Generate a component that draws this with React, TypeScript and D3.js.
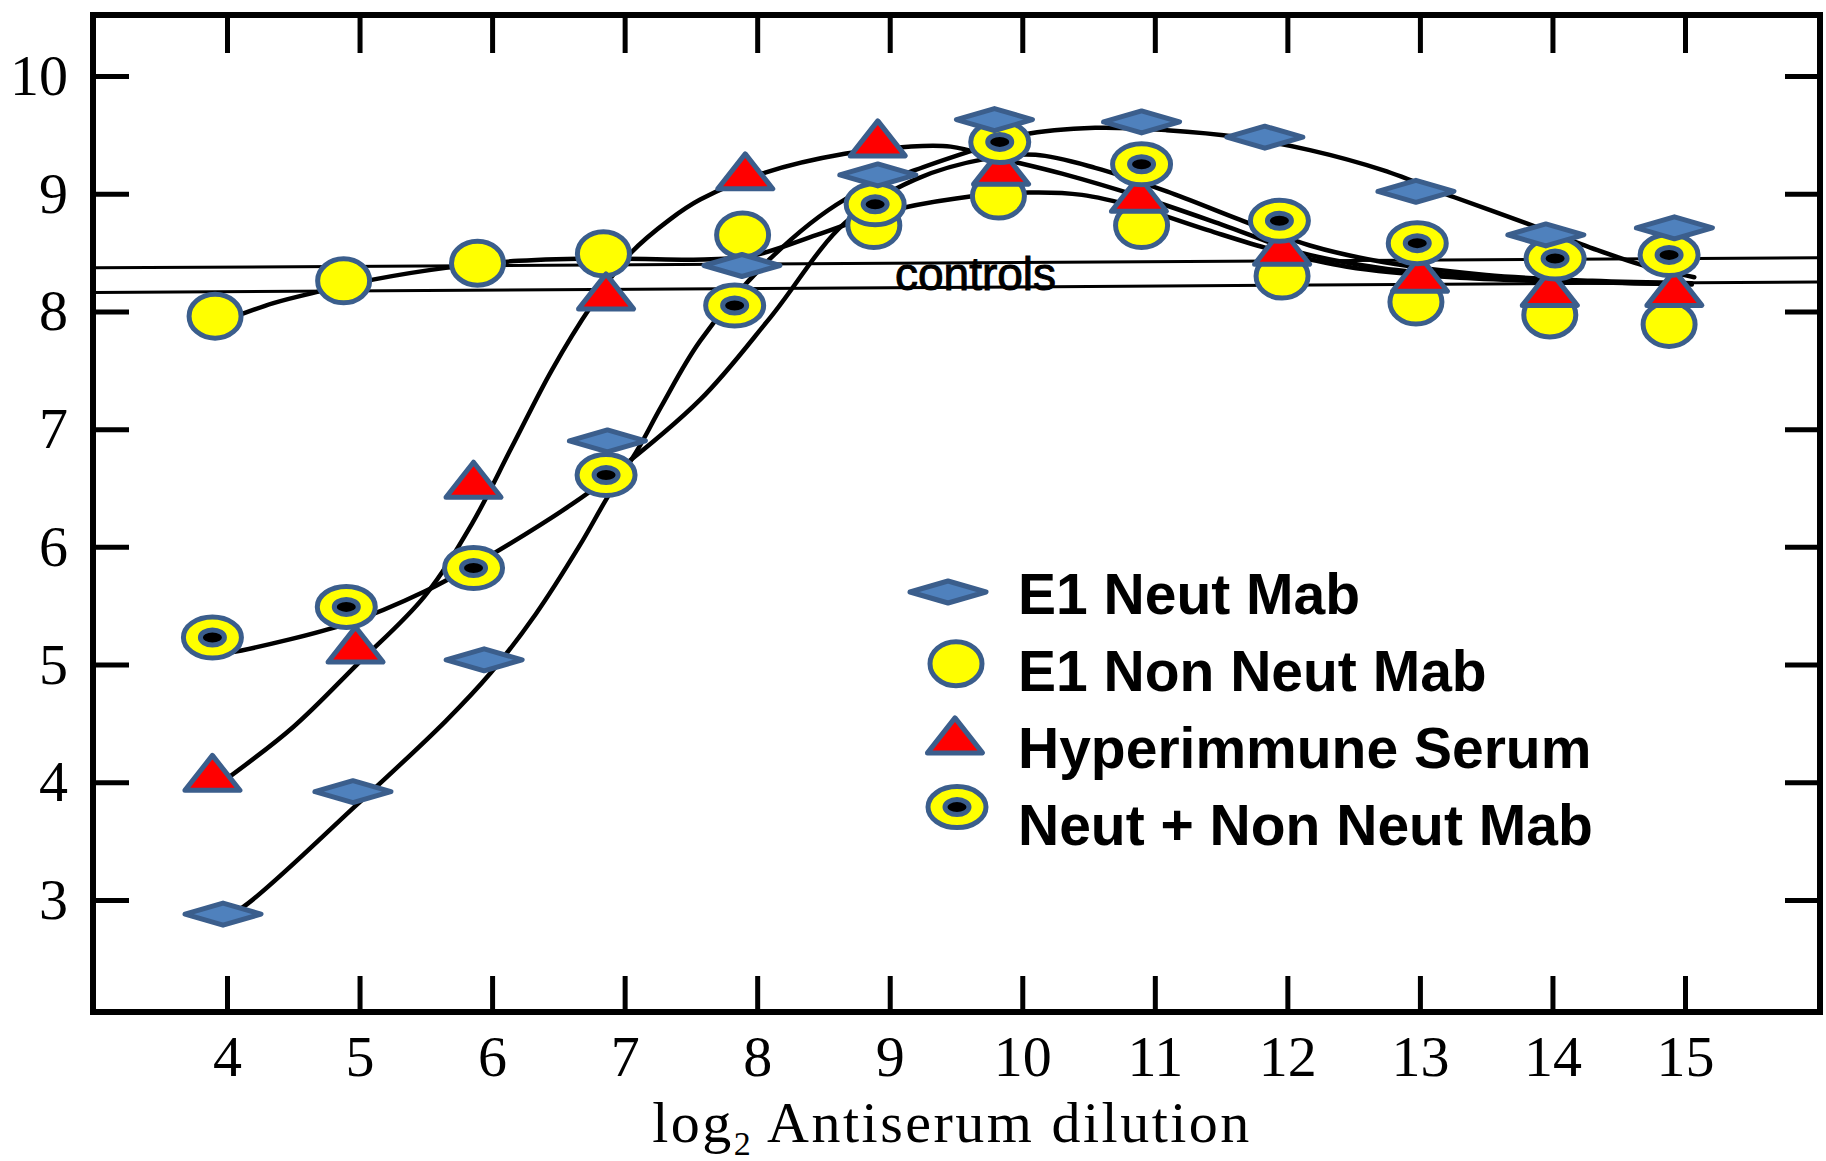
import { useEffect, useRef } from "react";
import * as d3 from "d3";

// x = log2 antiserum dilution, y = virus yield (log)
const dilutions = [4, 5, 6, 7, 8, 9, 10, 11, 12, 13, 14, 15];
const yTicks = [3, 4, 5, 6, 7, 8, 9, 10];

// markers overlaid on the scanned figure, [x, y]
const e1NeutMab = [
  [3.97, 2.88], [4.95, 3.92], [5.94, 5.04], [6.87, 6.9], [7.885, 8.39], [8.91, 9.16],
  [9.79, 9.63], [10.9, 9.61], [11.83, 9.48], [12.97, 9.02], [13.95, 8.65], [14.92, 8.71],
];
const e1NonNeutMab = [
  [3.91, 7.96], [4.88, 8.26], [5.89, 8.41], [6.84, 8.49], [7.89, 8.65], [8.88, 8.73],
  [9.82, 8.98], [10.9, 8.73], [11.96, 8.3], [12.97, 8.08], [13.98, 7.97], [14.88, 7.89],
];
const hyperimmuneSerum = [
  [3.89, 4.08], [4.97, 5.17], [5.86, 6.57], [6.86, 8.17], [7.91, 9.19], [8.91, 9.47],
  [9.84, 9.23], [10.88, 9.0], [11.96, 8.55], [13.0, 8.32], [13.98, 8.2], [14.92, 8.2],
];
const neutPlusNonNeut = [
  [3.89, 5.23], [4.9, 5.49], [5.86, 5.82], [6.86, 6.61], [7.83, 8.05], [8.89, 8.91],
  [9.83, 9.44], [10.9, 9.25], [11.94, 8.77], [12.98, 8.58], [14.02, 8.45], [14.88, 8.48],
];

// the original hand-drawn curves
const curveNeutMab = [
  [4.0, 2.88], [4.12, 2.94], [4.98, 3.81], [5.65, 4.52], [5.99, 4.93], [6.33, 5.43],
  [6.66, 6.01], [6.87, 6.42], [7.1, 6.83], [7.28, 7.2], [7.57, 7.75], [8.1, 8.45],
  [8.66, 8.95], [9.19, 9.2], [9.63, 9.37], [10.0, 9.5], [10.55, 9.56], [11.09, 9.54],
  [11.64, 9.48], [12.17, 9.37], [12.72, 9.2], [13.26, 8.97], [13.8, 8.75], [14.34, 8.52],
  [14.72, 8.38], [15.07, 8.29],
];
const curveNonNeutMab = [
  [4.0, 7.93], [4.35, 8.07], [4.7, 8.17], [5.1, 8.27], [5.65, 8.37],
  [6.2, 8.43], [6.85, 8.45], [7.5, 8.44], [7.95, 8.47], [8.45, 8.65], [8.95, 8.84],
  [9.5, 8.96], [10.05, 9.01], [10.45, 8.99], [10.85, 8.89], [11.4, 8.69], [11.9, 8.52],
  [12.45, 8.38], [13.25, 8.29], [14.2, 8.25], [15.05, 8.23],
];
const curveHyperimmune = [
  [3.95, 3.99], [4.5, 4.47], [4.98, 5.0], [5.49, 5.58], [5.85, 6.2], [6.15, 6.85],
  [6.45, 7.5], [6.75, 8.05], [7.05, 8.5], [7.34, 8.78], [7.57, 8.95], [8.06, 9.18],
  [8.66, 9.34], [9.14, 9.4], [9.46, 9.4], [9.83, 9.3], [10.3, 9.17], [10.9, 8.97],
  [11.5, 8.74], [12.1, 8.5], [12.7, 8.37], [13.5, 8.29], [14.3, 8.25], [15.05, 8.23],
];
const curveNeutPlusNonNeut = [
  [4.0, 5.1], [4.11, 5.12], [4.91, 5.35], [5.49, 5.62], [5.99, 5.93], [6.6, 6.36],
  [6.87, 6.58], [7.57, 7.25], [8.1, 7.95], [8.66, 8.75], [9.19, 9.12], [9.74, 9.3],
  [10.1, 9.33], [10.55, 9.22], [11.09, 9.02], [11.64, 8.78], [12.17, 8.56], [12.72, 8.42],
  [13.5, 8.31], [14.3, 8.26], [15.05, 8.24],
];
const controlsUpper = [[3, 8.37], [16, 8.455]];
const controlsLower = [[3, 8.16], [16, 8.25]];

const legendLabels = ["E1 Neut Mab", "E1 Non Neut Mab", "Hyperimmune Serum", "Neut + Non Neut Mab"];

const EDGE = "#3b5e8c";
const serif = "'Liberation Serif', 'Times New Roman', serif";
const sans = "'Liberation Sans', Arial, sans-serif";

function drawMarker(g, kind) {
  if (kind === 0) {
    g.append("path").attr("d", "M-38,0L0,-11L38,0L0,11Z")
      .attr("fill", "#4f81bd").attr("stroke", EDGE).attr("stroke-width", 5).attr("stroke-linejoin", "round");
  } else if (kind === 1) {
    g.append("ellipse").attr("rx", 26).attr("ry", 22)
      .attr("fill", "#ffff00").attr("stroke", EDGE).attr("stroke-width", 5);
  } else if (kind === 2) {
    g.append("path").attr("d", "M0,-17.5L27.5,17.5L-27.5,17.5Z")
      .attr("fill", "#ff0000").attr("stroke", EDGE).attr("stroke-width", 5).attr("stroke-linejoin", "round");
  } else {
    g.append("ellipse").attr("rx", 29).attr("ry", 20.5)
      .attr("fill", "#ffff00").attr("stroke", EDGE).attr("stroke-width", 5);
    g.append("ellipse").attr("rx", 12).attr("ry", 7.5)
      .attr("fill", "black").attr("stroke", EDGE).attr("stroke-width", 5);
  }
}

export default function App() {
  const ref = useRef(null);

  useEffect(() => {
    const width = 1826;
    const height = 1161;
    const frame = { left: 93, right: 1820, top: 15, bottom: 1012 };

    const svg = d3.select(ref.current);
    svg.selectAll("*").remove();

    const x = d3.scaleLinear().domain([4, 15]).range([227, 1685]);
    const y = d3.scaleLinear().domain([3, 10]).range([900, 76]);

    svg.append("rect").attr("width", width).attr("height", height).attr("fill", "white");

    const style = (g) => {
      g.select(".domain").remove();
      g.selectAll(".tick line").attr("stroke", "black").attr("stroke-width", 5);
      g.selectAll(".tick text").attr("font-family", serif).attr("font-size", 58).attr("fill", "black");
    };

    svg.append("g").attr("transform", `translate(${frame.left},0)`)
      .call(d3.axisLeft(y).tickValues(yTicks).tickSize(-36).tickPadding(25).tickFormat(d3.format("d")))
      .call(style);
    svg.append("g").attr("transform", `translate(${frame.right},0)`)
      .call(d3.axisRight(y).tickValues(yTicks).tickSize(-35).tickFormat(() => ""))
      .call(style);
    svg.append("g").attr("transform", `translate(0,${frame.bottom})`)
      .call(d3.axisBottom(x).tickValues(dilutions).tickSize(-36).tickPadding(23).tickFormat(d3.format("d")))
      .call(style);
    svg.append("g").attr("transform", `translate(0,${frame.top})`)
      .call(d3.axisTop(x).tickValues(dilutions).tickSize(-38).tickFormat(() => ""))
      .call(style);

    svg.append("rect")
      .attr("x", frame.left).attr("y", frame.top)
      .attr("width", frame.right - frame.left).attr("height", frame.bottom - frame.top)
      .attr("fill", "none").attr("stroke", "black").attr("stroke-width", 6);

    // controls band
    const straight = d3.line().x((d) => x(d[0])).y((d) => y(d[1]));
    [controlsUpper, controlsLower].forEach((c) => {
      svg.append("path").attr("d", straight(c)).attr("fill", "none")
        .attr("stroke", "black").attr("stroke-width", 3);
    });
    svg.append("text")
      .attr("x", 895).attr("y", 290)
      .attr("font-family", sans).attr("font-size", 46)
      .attr("fill", "black").attr("stroke", "black").attr("stroke-width", 1)
      .text("controls");

    const smooth = d3.line().x((d) => x(d[0])).y((d) => y(d[1])).curve(d3.curveCatmullRom.alpha(0.5));
    [curveNeutMab, curveNonNeutMab, curveHyperimmune, curveNeutPlusNonNeut].forEach((c) => {
      svg.append("path").attr("d", smooth(c)).attr("fill", "none")
        .attr("stroke", "black").attr("stroke-width", 4.5).attr("stroke-linecap", "round");
    });

    // markers: circles underneath, diamonds on top
    const order = [
      [e1NonNeutMab, 1],
      [hyperimmuneSerum, 2],
      [neutPlusNonNeut, 3],
      [e1NeutMab, 0],
    ];
    order.forEach(([data, kind]) => {
      svg.append("g").selectAll("g").data(data).join("g")
        .attr("transform", (d) => `translate(${x(d[0])},${y(d[1])})`)
        .each(function () { drawMarker(d3.select(this), kind); });
    });

    // legend
    const legend = svg.append("g");
    const legendMarkerX = [948, 956, 955, 957];
    legendLabels.forEach((label, i) => {
      drawMarker(legend.append("g").attr("transform", `translate(${legendMarkerX[i]},${592 + i * 71.7})`), i);
      legend.append("text")
        .attr("x", 1018).attr("y", 614 + i * 77)
        .attr("font-family", sans).attr("font-weight", "bold").attr("font-size", 57)
        .attr("fill", "black")
        .text(label);
    });

    // axis title
    const title = svg.append("text")
      .attr("x", 952).attr("y", 1142)
      .attr("text-anchor", "middle")
      .attr("font-family", serif).attr("font-size", 58)
      .attr("letter-spacing", 2.5)
      .attr("fill", "black");
    title.append("tspan").text("log");
    title.append("tspan").attr("font-size", 34).attr("dy", 13).text("2");
    title.append("tspan").attr("dy", -13).text(" Antiserum dilution");
  }, []);

  return (
    <svg
      ref={ref}
      width={1826}
      height={1161}
      viewBox="0 0 1826 1161"
      style={{ position: "absolute", left: 0, top: 0, display: "block" }}
    />
  );
}
